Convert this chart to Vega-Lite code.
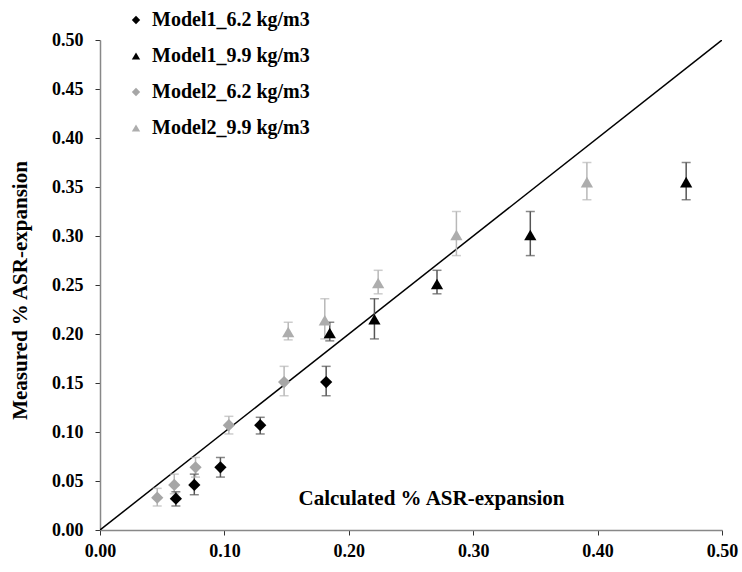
{
  "$schema": "https://vega.github.io/schema/vega-lite/v6.json",
  "width": 622,
  "height": 490,
  "autosize": "none",
  "padding": {"left": 100, "top": 40, "right": 20, "bottom": 42},
  "background": "white",
  "config": {
    "view": {"stroke": null},
    "font": "Liberation Serif"
  },
  "datasets": {
    "pts": [
      {"series": "Model1_6.2 kg/m3", "grp": "Model1", "x": 0.061, "y": 0.032, "lo": 0.0245, "hi": 0.039},
      {"series": "Model1_6.2 kg/m3", "grp": "Model1", "x": 0.0758, "y": 0.046, "lo": 0.036, "hi": 0.057},
      {"series": "Model1_6.2 kg/m3", "grp": "Model1", "x": 0.0968, "y": 0.064, "lo": 0.054, "hi": 0.074},
      {"series": "Model1_6.2 kg/m3", "grp": "Model1", "x": 0.1288, "y": 0.107, "lo": 0.098, "hi": 0.115},
      {"series": "Model1_6.2 kg/m3", "grp": "Model1", "x": 0.1818, "y": 0.151, "lo": 0.137, "hi": 0.167},
      {"series": "Model1_9.9 kg/m3", "grp": "Model1", "x": 0.1847, "y": 0.201, "lo": 0.193, "hi": 0.212},
      {"series": "Model1_9.9 kg/m3", "grp": "Model1", "x": 0.2206, "y": 0.215, "lo": 0.195, "hi": 0.236},
      {"series": "Model1_9.9 kg/m3", "grp": "Model1", "x": 0.2709, "y": 0.251, "lo": 0.241, "hi": 0.265},
      {"series": "Model1_9.9 kg/m3", "grp": "Model1", "x": 0.3459, "y": 0.301, "lo": 0.28, "hi": 0.325},
      {"series": "Model1_9.9 kg/m3", "grp": "Model1", "x": 0.4712, "y": 0.355, "lo": 0.337, "hi": 0.375},
      {"series": "Model2_6.2 kg/m3", "grp": "Model2", "x": 0.046, "y": 0.033, "lo": 0.0245, "hi": 0.0425},
      {"series": "Model2_6.2 kg/m3", "grp": "Model2", "x": 0.0597, "y": 0.046, "lo": 0.037, "hi": 0.057},
      {"series": "Model2_6.2 kg/m3", "grp": "Model2", "x": 0.0768, "y": 0.064, "lo": 0.054, "hi": 0.074},
      {"series": "Model2_6.2 kg/m3", "grp": "Model2", "x": 0.1036, "y": 0.107, "lo": 0.098, "hi": 0.116},
      {"series": "Model2_6.2 kg/m3", "grp": "Model2", "x": 0.148, "y": 0.151, "lo": 0.137, "hi": 0.167},
      {"series": "Model2_9.9 kg/m3", "grp": "Model2", "x": 0.1513, "y": 0.202, "lo": 0.194, "hi": 0.212},
      {"series": "Model2_9.9 kg/m3", "grp": "Model2", "x": 0.1807, "y": 0.214, "lo": 0.195, "hi": 0.236},
      {"series": "Model2_9.9 kg/m3", "grp": "Model2", "x": 0.2236, "y": 0.252, "lo": 0.241, "hi": 0.265},
      {"series": "Model2_9.9 kg/m3", "grp": "Model2", "x": 0.2865, "y": 0.301, "lo": 0.28, "hi": 0.325},
      {"series": "Model2_9.9 kg/m3", "grp": "Model2", "x": 0.3914, "y": 0.355, "lo": 0.337, "hi": 0.375}
    ],
    "diag": [
      {"x": 0, "y": 0},
      {"x": 0.5, "y": 0.5}
    ]
  },
  "layer": [
    {
      "data": {"name": "diag"},
      "mark": {"type": "line", "color": "black", "strokeWidth": 1.5, "clip": true},
      "encoding": {
        "x": {
          "field": "x", "type": "quantitative",
          "scale": {"domain": [0, 0.5], "nice": false, "zero": false},
          "axis": {
            "values": [0, 0.1, 0.2, 0.3, 0.4, 0.5],
            "format": ".2f",
            "grid": false,
            "domainColor": "#888888",
            "domainWidth": 1.5,
            "tickColor": "#333333",
            "tickSize": 5,
            "labelFont": "Liberation Serif",
            "labelFontSize": 18,
            "labelFontWeight": "bold",
            "labelColor": "black",
            "labelPadding": 7,
            "labelFlush": false,
            "title": "Calculated % ASR-expansion",
            "titleFont": "Liberation Serif",
            "titleFontSize": 21,
            "titleFontWeight": "bold",
            "titleColor": "black",
            "titleX": 331,
            "titleY": -32,
            "titleBaseline": "middle",
            "titleAlign": "center"
          }
        },
        "y": {
          "field": "y", "type": "quantitative",
          "scale": {"domain": [0, 0.5], "nice": false, "zero": false},
          "axis": {
            "values": [0, 0.05, 0.1, 0.15, 0.2, 0.25, 0.3, 0.35, 0.4, 0.45, 0.5],
            "format": ".2f",
            "grid": false,
            "domainColor": "#888888",
            "domainWidth": 1.5,
            "tickColor": "#333333",
            "tickSize": 5,
            "labelFont": "Liberation Serif",
            "labelFontSize": 18,
            "labelFontWeight": "bold",
            "labelColor": "black",
            "labelPadding": 12,
            "labelFlush": false,
            "title": "Measured % ASR-expansion",
            "titleFont": "Liberation Serif",
            "titleFontSize": 21,
            "titleFontWeight": "bold",
            "titleColor": "black",
            "titleX": -80,
            "titleY": 250,
            "titleAngle": -90,
            "titleBaseline": "middle",
            "titleAlign": "center"
          }
        }
      }
    },
    {
      "data": {"name": "pts"},
      "mark": {"type": "rule", "strokeWidth": 1.5},
      "encoding": {
        "x": {"field": "x", "type": "quantitative"},
        "y": {"field": "lo", "type": "quantitative"},
        "y2": {"field": "hi"},
        "color": {
          "field": "grp", "type": "nominal",
          "scale": {"domain": ["Model1", "Model2"], "range": ["#555555", "#b8b8b8"]},
          "legend": null
        }
      }
    },
    {
      "data": {"name": "pts"},
      "mark": {"type": "tick", "orient": "horizontal", "size": 9, "thickness": 1.5},
      "encoding": {
        "x": {"field": "x", "type": "quantitative"},
        "y": {"field": "lo", "type": "quantitative"},
        "color": {
          "field": "grp", "type": "nominal",
          "scale": {"domain": ["Model1", "Model2"], "range": ["#111111", "#b0b0b0"]},
          "legend": null
        }
      }
    },
    {
      "data": {"name": "pts"},
      "mark": {"type": "tick", "orient": "horizontal", "size": 9, "thickness": 1.5},
      "encoding": {
        "x": {"field": "x", "type": "quantitative"},
        "y": {"field": "hi", "type": "quantitative"},
        "color": {
          "field": "grp", "type": "nominal",
          "scale": {"domain": ["Model1", "Model2"], "range": ["#111111", "#b0b0b0"]},
          "legend": null
        }
      }
    },
    {
      "data": {"name": "pts"},
      "mark": {"type": "point", "filled": true, "opacity": 1, "size": 150},
      "encoding": {
        "x": {"field": "x", "type": "quantitative"},
        "y": {"field": "y", "type": "quantitative"},
        "fill": {
          "field": "series", "type": "nominal",
          "scale": {
            "domain": ["Model1_6.2 kg/m3", "Model1_9.9 kg/m3", "Model2_6.2 kg/m3", "Model2_9.9 kg/m3"],
            "range": ["#000000", "#000000", "#a6a6a6", "#adadad"]
          },
          "legend": {
            "orient": "none",
            "legendX": 26,
            "legendY": -30,
            "title": null,
            "labelFont": "Liberation Serif",
            "labelFontSize": 20,
            "labelFontWeight": "bold",
            "labelColor": "black",
            "labelLimit": 300,
            "symbolSize": 70,
            "rowPadding": 16,
            "labelOffset": 6,
            "symbolType": "diamond"
          }
        },
        "shape": {
          "field": "series", "type": "nominal",
          "scale": {
            "domain": ["Model1_6.2 kg/m3", "Model1_9.9 kg/m3", "Model2_6.2 kg/m3", "Model2_9.9 kg/m3"],
            "range": ["diamond", "triangle-up", "diamond", "triangle-up"]
          }
        }
      }
    }
  ]
}
